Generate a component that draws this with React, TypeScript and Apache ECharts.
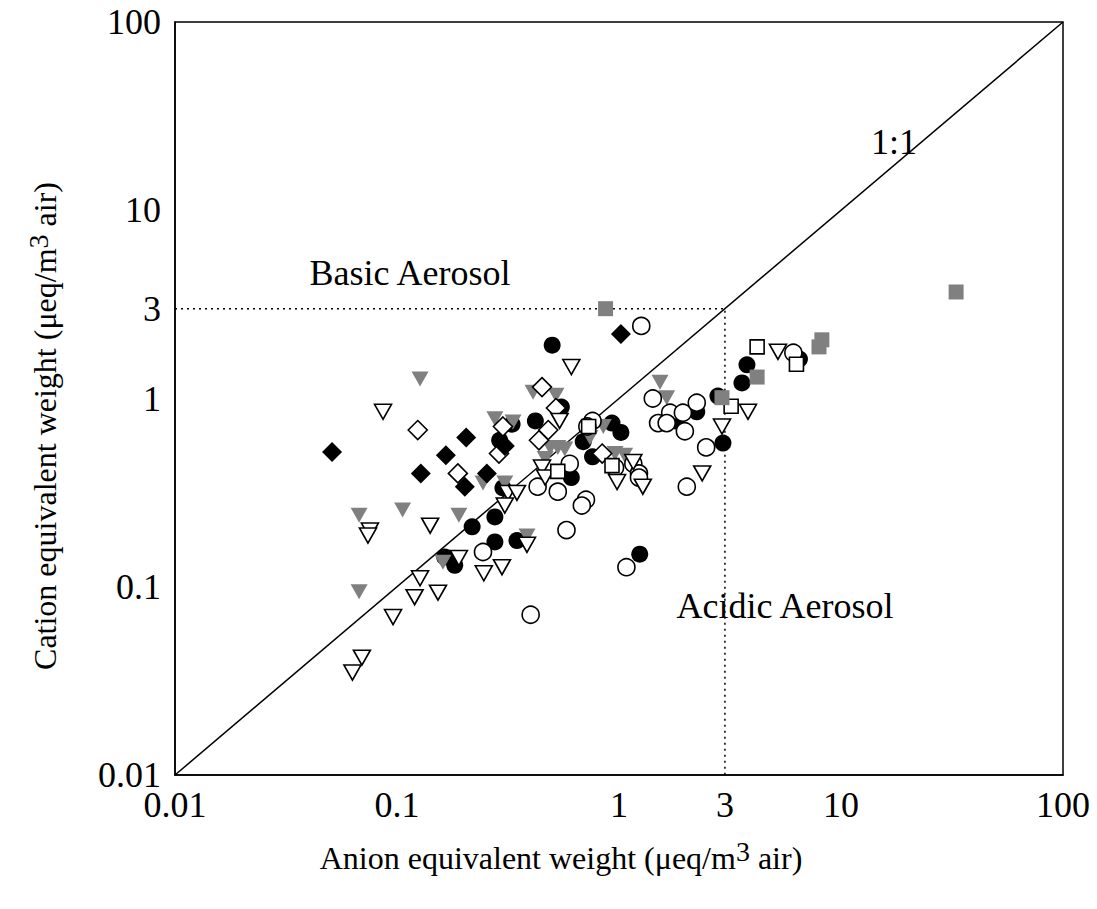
import React, { useEffect, useRef } from 'react';
import * as echarts from 'echarts';

type P = [number, number];

// [anion, cation] equivalent weights (µeq/m3 air)
const blackCircles: P[] = [
  [0.50, 1.92], [0.42, 0.76], [0.55, 0.90], [0.33, 0.73], [0.29, 0.60], [0.30, 0.335],
  [0.276, 0.235], [0.218, 0.208], [0.276, 0.173], [0.347, 0.176], [0.164, 0.144], [0.182, 0.130],
  [0.61, 0.38], [0.69, 0.59], [0.76, 0.49], [0.93, 0.74], [1.02, 0.66], [2.24, 0.85],
  [2.79, 1.03], [2.94, 0.58], [3.58, 1.21], [3.77, 1.51], [6.5, 1.62], [1.24, 0.149], [1.8, 0.76],
];
const openCircles: P[] = [
  [1.26, 2.43], [1.42, 1.0], [1.70, 0.84], [1.94, 0.84], [2.24, 0.95], [1.50, 0.74], [1.64, 0.74],
  [1.98, 0.67], [2.47, 0.55], [2.02, 0.34], [6.1, 1.75], [0.76, 0.76], [0.72, 0.71], [0.60, 0.45],
  [0.96, 0.43], [1.16, 0.45], [1.23, 0.40], [1.23, 0.38], [0.43, 0.34], [0.53, 0.32], [0.71, 0.29],
  [0.68, 0.27], [0.58, 0.20], [0.244, 0.153], [0.40, 0.071], [1.08, 0.127],
];
const openSquares: P[] = [
  [0.73, 0.71], [0.53, 0.41], [0.93, 0.44], [3.2, 0.91], [4.19, 1.88], [6.3, 1.52],
];
const greySquares: P[] = [
  [0.87, 3.0], [33, 3.68], [8.2, 2.05], [7.96, 1.88], [4.19, 1.30], [2.91, 1.01],
];
const greyTriangles: P[] = [
  [0.127, 1.27], [0.41, 1.08], [0.52, 1.04], [0.276, 0.78], [0.333, 0.75], [0.49, 0.55],
  [0.53, 0.55], [0.57, 0.54], [0.465, 0.48], [0.85, 0.71], [0.74, 0.62], [0.96, 0.51],
  [1.06, 0.50], [1.53, 1.22], [1.64, 1.01], [0.244, 0.356], [0.306, 0.356], [0.385, 0.186],
  [0.0675, 0.24], [0.106, 0.256], [0.19, 0.24], [0.161, 0.135], [0.0675, 0.094],
];
const openTriangles: P[] = [
  [0.61, 1.47], [0.0865, 0.85], [0.54, 0.76], [0.45, 0.43], [0.465, 0.38], [0.316, 0.315],
  [0.347, 0.315], [0.306, 0.27], [0.385, 0.167], [0.297, 0.127], [0.246, 0.118], [0.19, 0.142],
  [0.141, 0.211], [0.0755, 0.199], [0.074, 0.187], [0.127, 0.111], [0.12, 0.088], [0.153, 0.093],
  [0.096, 0.069], [0.0695, 0.042], [0.063, 0.035], [0.98, 0.36], [1.28, 0.34], [1.16, 0.46],
  [2.37, 0.40], [2.91, 0.71], [3.81, 0.85], [5.2, 1.77],
];
const blackDiamonds: P[] = [
  [1.02, 2.2], [0.051, 0.52], [0.205, 0.62], [0.166, 0.50], [0.128, 0.40], [0.254, 0.40],
  [0.202, 0.34], [0.306, 0.56],
];
const openDiamonds: P[] = [
  [0.124, 0.68], [0.188, 0.40], [0.45, 1.15], [0.52, 0.89], [0.30, 0.71], [0.48, 0.68],
  [0.436, 0.60], [0.288, 0.51], [0.84, 0.51],
];

const oneToOne: P[] = [[0.01, 0.01], [100, 100]];
const limit = 3;
const axisMin = 0.01;
const axisMax = 100;
const extraTick = 3;

const FONT = '"Liberation Serif", "Times New Roman", serif';
const FS = 32;
const TICK_FS = 36;
const NOTE_FS = 36;

export default function App() {
  const ref = useRef<HTMLDivElement>(null);
  useEffect(() => {
    const chart = echarts.init(ref.current!, null, { renderer: 'svg' });
    const openStyle = { color: '#ffffff', borderColor: '#000000', borderWidth: 1.6, opacity: 1 };
    const scatter = (data: P[], symbol: string, size: any, itemStyle: any, rotate = 0) => ({
      type: 'scatter', data, symbol, symbolSize: size, symbolRotate: rotate,
      itemStyle: { opacity: 1, ...itemStyle },
      clip: false, z: 3,
    });
    const labelStyle = { color: '#000', fontFamily: FONT, fontSize: TICK_FS };
    const fmt = (v: number) => String(+(+v).toPrecision(3));
    const option: any = {
      animation: false,
      grid: {
        left: 175, right: 34, top: 22, bottom: 134, show: true,
        borderColor: '#000', borderWidth: 1.5, backgroundColor: 'transparent',
      },
      xAxis: {
        type: 'log', logBase: 10, min: axisMin, max: axisMax,
        axisLine: { show: true, lineStyle: { color: '#000', width: 1.5 } },
        axisTick: { show: false }, splitLine: { show: false },
        axisLabel: { ...labelStyle, margin: 12, formatter: fmt },
      },
      yAxis: {
        type: 'log', logBase: 10, min: axisMin, max: axisMax,
        axisLine: { show: true, lineStyle: { color: '#000', width: 1.5 } },
        axisTick: { show: false }, splitLine: { show: false },
        axisLabel: { ...labelStyle, margin: 14, formatter: fmt },
      },
      series: [
        {
          type: 'line', data: oneToOne, symbol: 'none', silent: true,
          lineStyle: { color: '#000', width: 1.5 }, z: 2,
        },
        {
          type: 'line', data: [[axisMin, limit], [limit, limit], [limit, axisMin]], symbol: 'none', silent: true,
          lineStyle: { color: '#000', width: 1.5, type: [2, 4] }, z: 2,
        },
        {
          type: 'scatter', data: [[extraTick, axisMin]], symbolSize: 0, clip: false, silent: true,
          itemStyle: { opacity: 1 },
          label: { show: true, position: 'bottom', distance: 12, formatter: String(extraTick), opacity: 1, ...labelStyle },
        },
        {
          type: 'scatter', data: [[axisMin, extraTick]], symbolSize: 0, clip: false, silent: true,
          itemStyle: { opacity: 1 },
          label: { show: true, position: 'left', distance: 14, formatter: String(extraTick), opacity: 1, ...labelStyle },
        },
        scatter(blackCircles, 'circle', 17, { color: '#000' }),
        scatter(greyTriangles, 'triangle', [17, 15], { color: '#808080' }, 180),
        scatter(openDiamonds, 'diamond', [19, 19], openStyle),
        scatter(blackDiamonds, 'diamond', [20, 20], { color: '#000' }),
        scatter(openCircles, 'circle', 17, openStyle),
        scatter(openTriangles, 'triangle', [17, 15], openStyle, 180),
        scatter(openSquares, 'rect', 14, openStyle),
        scatter(greySquares, 'rect', 15, { color: '#808080' }),
      ],
      graphic: [
        {
          type: 'text', x: 894, y: 142,
          style: { text: '1:1', font: `${NOTE_FS}px ${FONT}`, fill: '#000', align: 'center', verticalAlign: 'middle' },
        },
        {
          type: 'text', x: 410, y: 273,
          style: { text: 'Basic Aerosol', font: `${NOTE_FS}px ${FONT}`, fill: '#000', align: 'center', verticalAlign: 'middle' },
        },
        {
          type: 'text', x: 785, y: 606,
          style: { text: 'Acidic Aerosol', font: `${NOTE_FS}px ${FONT}`, fill: '#000', align: 'center', verticalAlign: 'middle' },
        },
        {
          type: 'text', x: 561, y: 858,
          style: {
            text: 'Anion equivalent weight (μeq/m{sup|3} air)',
            fontFamily: FONT, fontSize: FS, fill: '#000', align: 'center', verticalAlign: 'middle',
            rich: { sup: { fontFamily: FONT, fontSize: 28, fill: '#000', padding: [0, 0, 14, 0] } },
          },
        },
        {
          type: 'text', x: 45, y: 426, rotation: Math.PI / 2,
          style: {
            text: 'Cation equivalent weight (μeq/m{sup|3} air)',
            fontFamily: FONT, fontSize: FS, fill: '#000', align: 'center', verticalAlign: 'middle',
            rich: { sup: { fontFamily: FONT, fontSize: 28, fill: '#000', padding: [0, 0, 14, 0] } },
          },
        },
      ],
    };
    chart.setOption(option);
    return () => chart.dispose();
  }, []);
  return (
    <div
      ref={ref}
      style={{ position: 'fixed', left: 0, top: 0, width: 1097, height: 909, background: '#fff' }}
    />
  );
}
